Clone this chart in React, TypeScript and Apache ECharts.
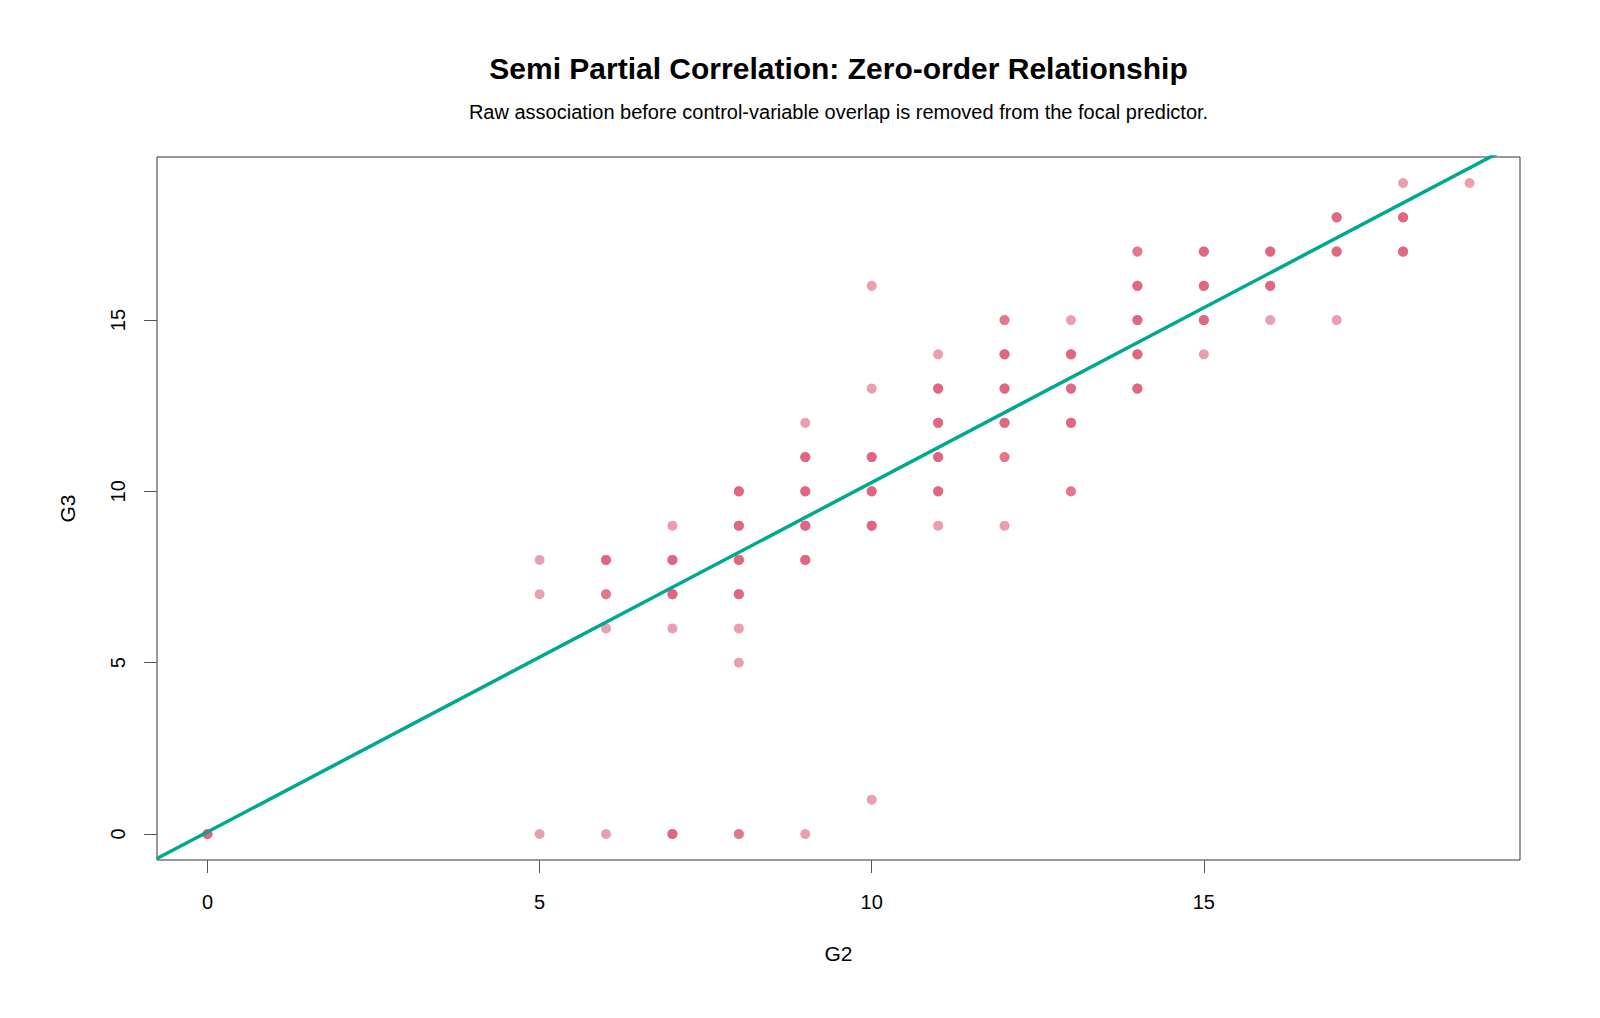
import React, { useEffect, useRef } from "react";
import * as echarts from "echarts";

// Unique (G2, G3) positions and how many students share each one
const g2 = [0, 5, 5, 5, 6, 6, 6, 6, 7, 7, 7, 7, 7, 8, 8, 8, 8, 8, 8, 8, 9, 9, 9, 9, 9, 9, 10, 10, 10, 10, 10, 10, 11, 11, 11, 11, 11, 11, 12, 12, 12, 12, 12, 12, 13, 13, 13, 13, 13, 14, 14, 14, 14, 14, 15, 15, 15, 15, 16, 16, 16, 17, 17, 17, 18, 18, 18, 19];
const g3 = [0, 8, 7, 0, 8, 7, 6, 0, 9, 8, 7, 6, 0, 10, 9, 8, 7, 6, 5, 0, 12, 11, 10, 9, 8, 0, 16, 13, 11, 10, 9, 1, 14, 13, 12, 11, 10, 9, 15, 14, 13, 12, 11, 9, 15, 14, 13, 12, 10, 17, 16, 15, 14, 13, 17, 16, 15, 14, 17, 16, 15, 18, 17, 15, 19, 18, 17, 19];
const counts = [3, 1, 1, 1, 3, 2, 1, 1, 1, 3, 3, 1, 3, 3, 3, 3, 3, 1, 1, 2, 1, 3, 3, 3, 3, 1, 1, 1, 3, 3, 3, 1, 1, 3, 3, 3, 3, 1, 2, 3, 3, 3, 2, 1, 1, 3, 3, 3, 2, 2, 3, 3, 3, 3, 3, 3, 3, 1, 3, 3, 1, 3, 3, 1, 1, 3, 3, 1];

// Fitted zero-order regression line G3 = a + b * G2
const intercept = 0.06;
const slope = 1.02;

const xTicks = [0, 5, 10, 15];
const yTicks = [0, 5, 10, 15];
const axisMin = -0.76;
const axisMax = 19.76;

const titleText = "Semi Partial Correlation: Zero-order Relationship";
const subtitleText = "Raw association before control-variable overlap is removed from the focal predictor.";

const FONT = "'Liberation Sans', Arial, sans-serif";

export default function App() {
  const ref = useRef<HTMLDivElement>(null);

  useEffect(() => {
    if (!ref.current) return;
    const chart = echarts.init(ref.current, null, { renderer: "svg" });

    const points: any[] = [];
    for (let i = 0; i < g2.length; i++) {
      for (let k = 0; k < counts[i]; k++) {
        points.push([g2[i], g3[i]]);
      }
    }
    const lineData = [
      [axisMin, intercept + slope * axisMin],
      [axisMax, intercept + slope * axisMax],
    ];

    // page offset of 8px (body margin) removed
    const left = 149;
    const right = 1512;
    const top = 149;
    const bottom = 852;
    const cx = (left + right) / 2;

    chart.setOption({
      animation: false,
      backgroundColor: "#ffffff",
      textStyle: { fontFamily: FONT },
      grid: {
        left: left,
        top: top,
        width: right - left,
        height: bottom - top,
        show: true,
        borderColor: "#333333",
        borderWidth: 1,
        backgroundColor: "transparent",
      },
      xAxis: {
        type: "value",
        min: axisMin,
        max: axisMax,
        splitLine: { show: false },
        axisLine: { show: false, onZero: false },
        axisTick: {
          show: true,
          customValues: xTicks,
          length: 13,
          lineStyle: { color: "#555555", width: 1 },
        },
        axisLabel: {
          show: true,
          customValues: xTicks,
          margin: 32,
          fontSize: 20,
          color: "#000000",
          fontFamily: FONT,
        },
      },
      yAxis: {
        type: "value",
        min: axisMin,
        max: axisMax,
        splitLine: { show: false },
        axisLine: { show: false, onZero: false },
        axisTick: {
          show: true,
          customValues: yTicks,
          length: 13,
          lineStyle: { color: "#555555", width: 1 },
        },
        axisLabel: {
          show: true,
          customValues: yTicks,
          rotate: 90,
          margin: 29,
          fontSize: 20,
          color: "#000000",
          fontFamily: FONT,
        },
      },
      graphic: [
        {
          type: "text",
          x: cx,
          y: 60,
          style: {
            text: titleText,
            fill: "#000000",
            font: `bold 30px ${FONT}`,
            textAlign: "center",
            textVerticalAlign: "middle",
          },
        },
        {
          type: "text",
          x: cx,
          y: 104,
          style: {
            text: subtitleText,
            fill: "#000000",
            font: `20px ${FONT}`,
            textAlign: "center",
            textVerticalAlign: "middle",
          },
        },
        {
          type: "text",
          x: cx,
          y: 945,
          style: {
            text: "G2",
            fill: "#000000",
            font: `21px ${FONT}`,
            textAlign: "center",
            textVerticalAlign: "middle",
          },
        },
        {
          type: "text",
          x: 59,
          y: (top + bottom) / 2,
          rotation: Math.PI / 2,
          style: {
            text: "G3",
            fill: "#000000",
            font: `21px ${FONT}`,
            textAlign: "center",
            textVerticalAlign: "middle",
          },
        },
      ],
      series: [
        {
          type: "scatter",
          data: points,
          symbol: "circle",
          symbolSize: 10,
          itemStyle: { color: "#DE5E78", opacity: 0.6 },
          z: 2,
        },
        {
          type: "line",
          data: lineData,
          showSymbol: false,
          symbol: "none",
          clip: true,
          lineStyle: { color: "#00A88F", width: 3.5 },
          z: 3,
        },
      ],
    });

    return () => chart.dispose();
  }, []);

  return <div ref={ref} style={{ width: 1584, height: 1002 }} />;
}
